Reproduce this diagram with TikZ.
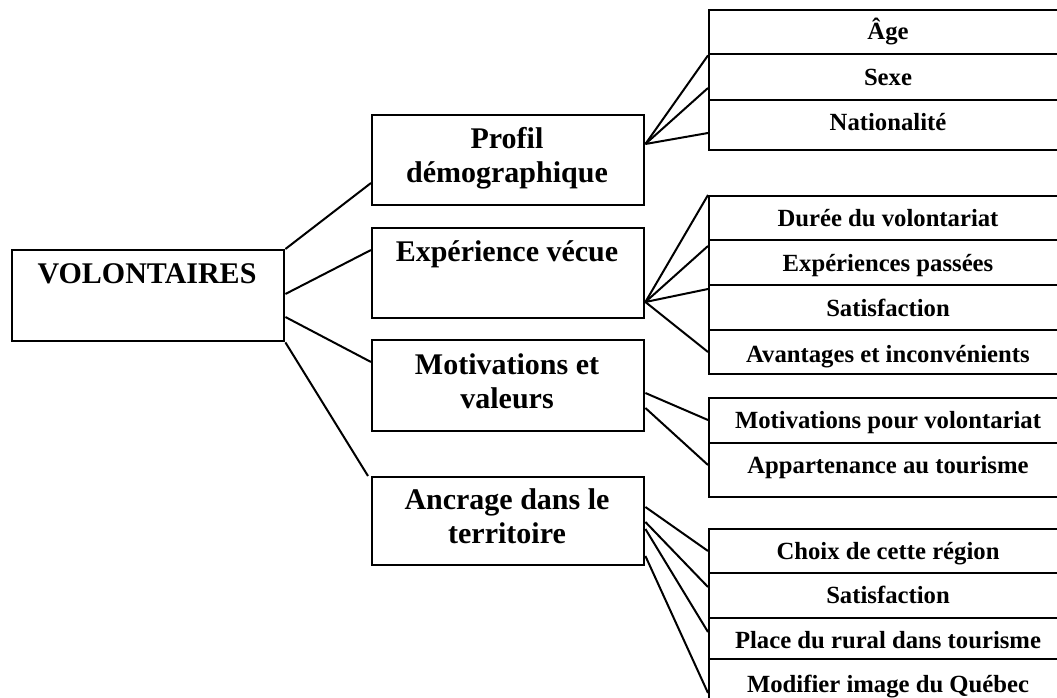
\documentclass[tikz,border=0pt]{standalone}
\usepackage{fontspec}
\setmainfont{Liberation Serif}
\usetikzlibrary{calc}

\tikzset{
  box/.style={draw, line width=2.4pt, inner sep=0pt, anchor=north west,
    minimum width=272pt},
  row/.style={draw, line width=2.4pt, inner sep=0pt, anchor=north west,
    minimum width=360pt},
  big/.style={anchor=base, inner sep=0pt, align=center,
    font=\fontsize{30}{34}\selectfont\bfseries},
  small/.style={anchor=base, inner sep=0pt,
    font=\fontsize{24.7}{28}\selectfont\bfseries},
  link/.style={line width=2pt}
}

\begin{document}
\begin{tikzpicture}[x=1pt, y=-1pt]
\useasboundingbox (0,0) rectangle (1057,698);
\clip (0,0) rectangle (1057,698);

% root
\node[box, minimum height=91pt] (vol) at (11,249) {};
\node[big] (tvol) at (147,283) {VOLONTAIRES};

% themes (two-line labels sit on the baseline of their last line)
\node[box, minimum height=90pt] (prof) at (371,114) {};
\node[box, minimum height=90pt] (exp)  at (371,227) {};
\node[box, minimum height=91pt] (mot)  at (371,339) {};
\node[box, minimum height=88pt] (anc)  at (371,476) {};
\node[big] (tprof) at (507,182) {Profil\\démographique};
\node[big] (texp)  at (507,261) {Expérience vécue};
\node[big] (tmot)  at (507,408) {Motivations et\\valeurs};
\node[big] (tanc)  at (507,543) {Ancrage dans le\\territoire};

% variables: profile
\node[row, minimum height=44pt] (age)  at (708,9) {};
\node[row, minimum height=46pt] (sexe) at (708,53) {};
\node[row, minimum height=50pt] (nat)  at (708,99) {};
\node[small] (tage)  at (888,40)  {Âge};
\node[small] (tsexe) at (888,86)  {Sexe};
\node[small] (tnat)  at (888,131) {Nationalité};

% variables: experience
\node[row, minimum height=44pt] (duree) at (708,195) {};
\node[row, minimum height=45pt] (expp)  at (708,239) {};
\node[row, minimum height=45pt] (sata)  at (708,284) {};
\node[row, minimum height=44pt] (avant) at (708,329) {};
\node[small] (tduree) at (888,226) {Durée du volontariat};
\node[small] (texpp)  at (888,271) {Expériences passées};
\node[small] (tsata)  at (888,316) {Satisfaction};
\node[small] (tavant) at (888,362) {Avantages et inconvénients};

% variables: motivations
\node[row, minimum height=45pt] (motv)   at (708,397) {};
\node[row, minimum height=54pt] (appart) at (708,442) {};
\node[small] (tmotv)   at (888,428) {Motivations pour volontariat};
\node[small] (tappart) at (888,473) {Appartenance au tourisme};

% variables: territory
\node[row, minimum height=44pt] (choix) at (708,528) {};
\node[row, minimum height=45pt] (satb)  at (708,572) {};
\node[row, minimum height=41pt] (place) at (708,617) {};
\node[row, minimum height=60pt] (modif) at (708,658) {};
\node[small] (tchoix) at (888,559) {Choix de cette région};
\node[small] (tsatb)  at (888,603) {Satisfaction};
\node[small] (tplace) at (888,648) {Place du rural dans tourisme};
\node[small] (tmodif) at (888,692) {Modifier image du Québec};

% root to themes
\draw[link] (vol.north east) -- ($(prof.north west)+(0,69)$);
\draw[link] ($(vol.north east)+(0,45)$) -- ($(exp.north west)+(0,23)$);
\draw[link] ($(vol.north east)+(0,68)$) -- ($(mot.north west)+(0,23)$);
\draw[link] (vol.south east) -- ($(anc.north west)+(-3,0)$);

% profile fan
\coordinate (p0) at ($(prof.north east)+(0,30)$);
\draw[link] (p0) -- (age.south west);
\draw[link] (p0) -- ($(sexe.north west)+(0,35)$);
\draw[link] (p0) -- ($(nat.north west)+(0,34)$);

% experience fan
\coordinate (e0) at ($(exp.north east)+(0,75)$);
\draw[link] (e0) -- (duree.north west);
\draw[link] (e0) -- ($(expp.north west)+(0,7)$);
\draw[link] (e0) -- ($(sata.north west)+(0,5)$);
\draw[link] (e0) -- ($(avant.north west)+(0,23)$);

% motivations
\draw[link] ($(mot.north east)+(0,54)$) -- ($(motv.north west)+(0,23)$);
\draw[link] ($(mot.north east)+(0,69)$) -- ($(appart.north west)+(0,23)$);

% territory
\draw[link] ($(anc.north east)+(0,31)$) -- ($(choix.north west)+(0,23)$);
\draw[link] ($(anc.north east)+(0,46)$) -- ($(satb.north west)+(0,15)$);
\draw[link] ($(anc.north east)+(0,53)$) -- ($(place.north west)+(0,15)$);
\draw[link] ($(anc.north east)+(0,80)$) -- ($(modif.north west)+(0,35)$);
\end{tikzpicture}
\end{document}
